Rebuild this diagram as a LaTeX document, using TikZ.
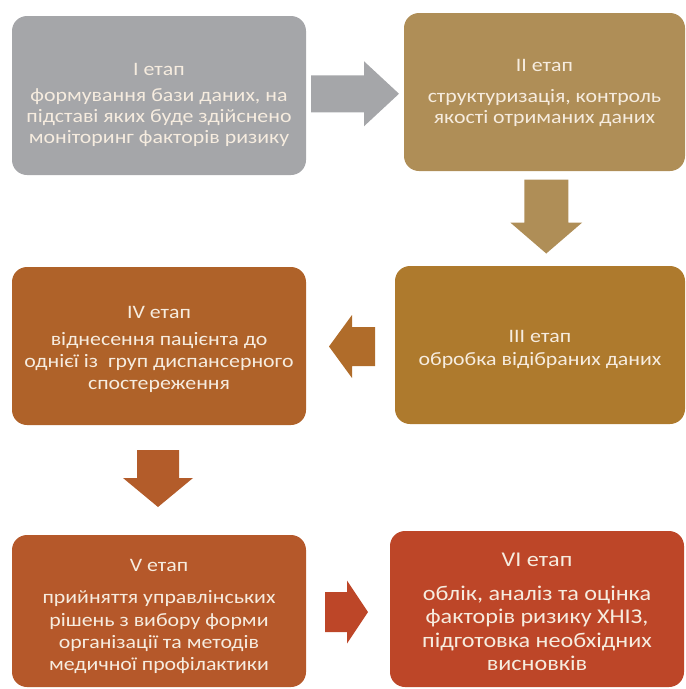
\documentclass[tikz,border=0pt]{standalone}
\usepackage{fontspec}
\setmainfont{Carlito}[FakeStretch=1.15]
\usepackage{xcolor}
\usetikzlibrary{calc}

\definecolor{stageI}{HTML}{A5A6A9}
\definecolor{stageII}{HTML}{AF8E57}
\definecolor{stageIII}{HTML}{AE7A2D}
\definecolor{stageIV}{HTML}{AF6229}
\definecolor{stageV}{HTML}{B5582A}
\definecolor{stageVI}{HTML}{BD4628}
\definecolor{arrIIIV}{HTML}{B06C2A}
\definecolor{arrIVV}{HTML}{B35C2A}
\definecolor{cream}{HTML}{F6ECDF}

\tikzset{
    % block arrow: colour / half length / half shaft / half head / head length
    pics/flowarrow/.style n args={5}{code={
        \fill[#1] (-#2,-#3) -- ({#2-#5},-#3) -- ({#2-#5},-#4) -- (#2,0)
            -- ({#2-#5},#4) -- ({#2-#5},#3) -- (-#2,#3) -- cycle;
    }}
}

\begin{document}
\begin{tikzpicture}[x=1pt, y=-1pt,
    stagebox/.style={rectangle, rounded corners=15pt, inner sep=0pt},
    stagetext/.style={inner sep=0pt, text=cream, align=center,
        font=\fontsize{19}{21}\selectfont}]
    \useasboundingbox (0,0) rectangle (686,689);

    % Stages
    \node[stagebox, fill=stageI, minimum width=294pt, minimum height=159pt] (s1) at (159,95.5) {};
    \node[stagebox, fill=stageII, minimum width=281pt, minimum height=158pt] (s2) at (544.5,92) {};
    \node[stagebox, fill=stageIII, minimum width=290pt, minimum height=158pt] (s3) at (540,345) {};
    \node[stagebox, fill=stageIV, minimum width=294pt, minimum height=158pt] (s4) at (159,346) {};
    \node[stagebox, fill=stageV, minimum width=294pt, minimum height=152pt] (s5) at (159,611) {};
    \node[stagebox, fill=stageVI, minimum width=294pt, minimum height=156pt] (s6) at (537,609) {};

    % Stage texts
    \node[stagetext] (t1) at ($(s1)+(0,9)$)
        {I етап\\[5pt]формування бази даних, на\\підставі яких буде здійснено\\моніторинг факторів ризику};
    \node[stagetext] (t2) at ($(s2)+(0,0.5)$)
        {II етап\\[10pt]структуризація, контроль\\якості отриманих даних};
    \node[stagetext] (t3) at ($(s3)+(0,4)$)
        {III етап\\[2pt]обробка відібраних даних};
    \node[stagetext, font=\fontsize{19}{22}\selectfont] (t4) at ($(s4)+(0,3.5)$)
        {IV етап\\[5pt]віднесення пацієнта до\\однієї із \ груп диспансерного\\спостереження};
    \node[stagetext, font=\fontsize{19}{22.3}\selectfont] (t5) at ($(s5)+(0,5.5)$)
        {V етап\\[10pt]прийняття управлінських\\рішень з вибору форми\\організації та методів\\медичної профілактики};
    \node[stagetext, font=\fontsize{21}{23.5}\selectfont] (t6) at ($(s6)+(0,3)$)
        {VI етап\\[10pt]облік, аналіз та оцінка\\факторів ризику ХНІЗ,\\підготовка необхідних\\висновків};

    % Arrows between stages
    \coordinate (a12) at ($(s1.east)!0.5!(s2.west)$);
    \coordinate (a23) at ($(s2.south)!0.5!(s3.north)+(4,-2)$);
    \coordinate (a34) at ($(s3.west)!0.5!(s4.east)+(1.5,1)$);
    \coordinate (a45) at ($(s4.south)!0.5!(s5.north)+(-1,-1.5)$);
    \coordinate (a56) at ($(s5.east)!0.5!(s6.west)+(-1.5,2)$);
    \pic at (a12) {flowarrow={stageI}{44}{18.5}{32.5}{35}};
    \pic[rotate=-90] at (a23) {flowarrow={stageII}{37}{22}{36}{31}};
    \pic[rotate=180] at (a34) {flowarrow={arrIIIV}{23}{19.5}{31.5}{23}};
    \pic[rotate=-90] at (a45) {flowarrow={arrIVV}{28.5}{21}{35}{29}};
    \pic at (a56) {flowarrow={stageVI}{21.5}{20}{31.5}{21}};
\end{tikzpicture}
\end{document}
